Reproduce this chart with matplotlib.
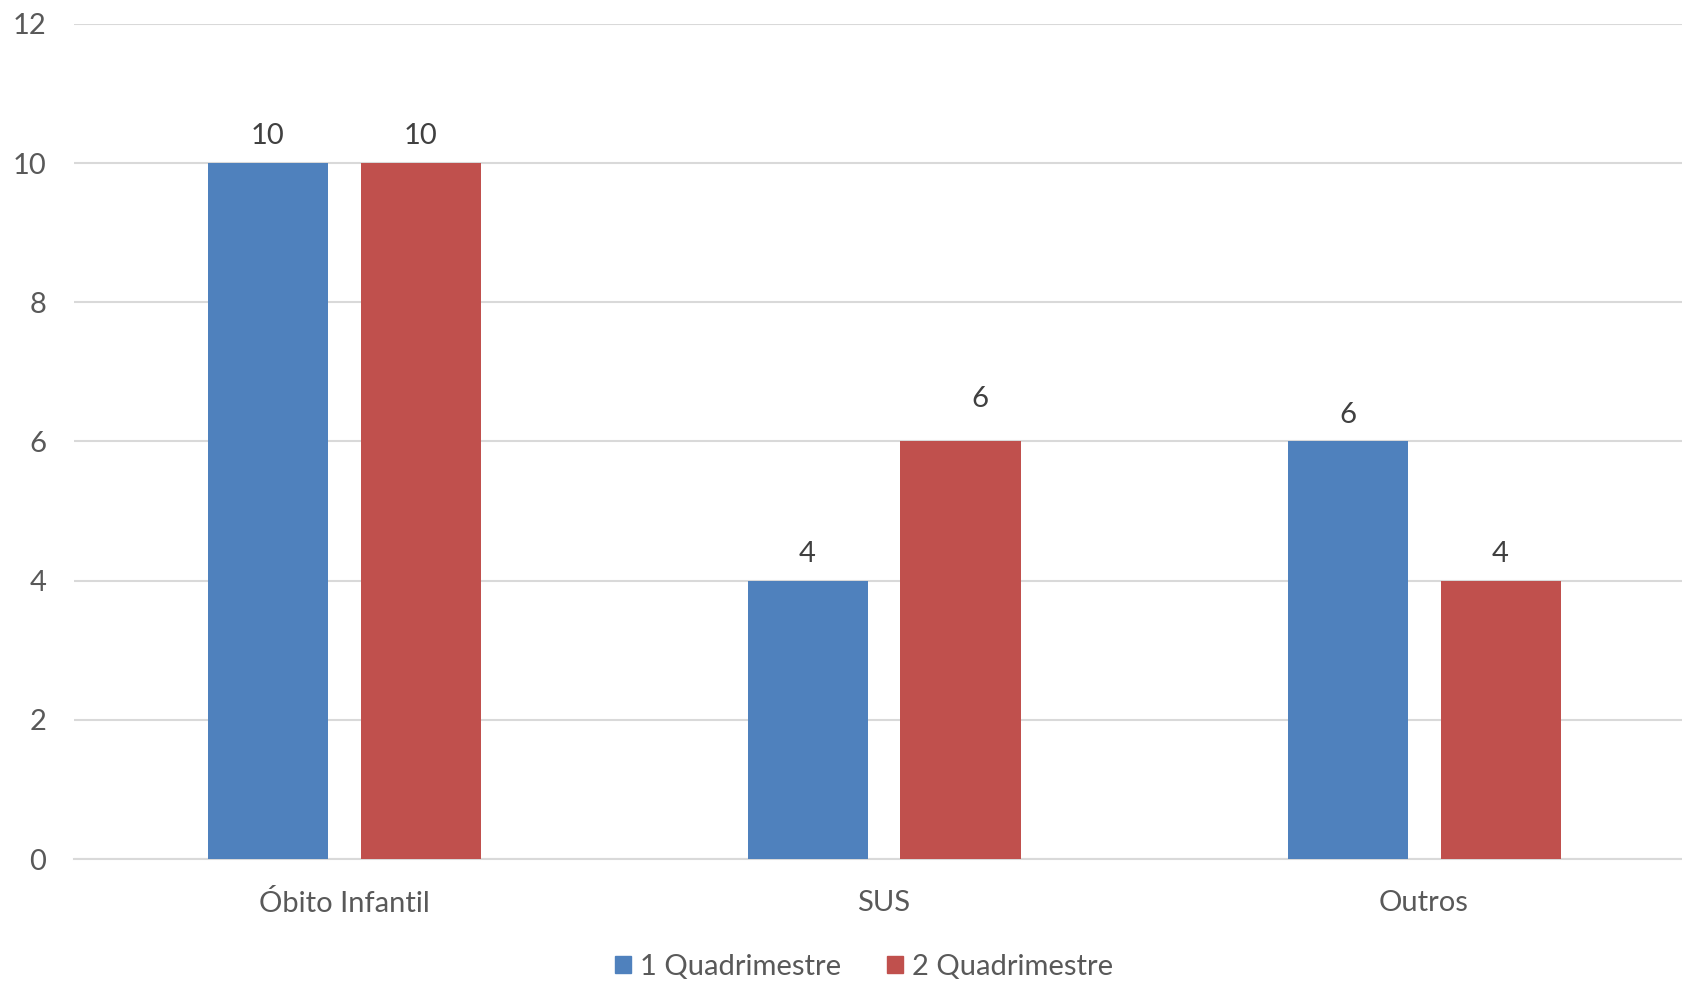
import matplotlib
matplotlib.use("Agg")
import matplotlib.pyplot as plt
import numpy as np
from matplotlib.patches import Patch

categories = ["Óbito Infantil", "SUS", "Outros"]
series_names = ["1 Quadrimestre", "2 Quadrimestre"]
q1 = [10, 4, 6]
q2 = [10, 6, 4]
yticks = [0, 2, 4, 6, 8, 10, 12]

plt.rcParams['font.family'] = ['Lato', 'DejaVu Sans']

W, H = 1682, 981
fig = plt.figure(figsize=(W / 100, H / 100), dpi=100)
left = 74 / W
bottom = (H - 859) / H
ax = fig.add_axes([left, bottom, 1620 / W, 835 / H])

blue = "#4F81BD"
red = "#C0504D"
x = np.arange(len(categories))
bw = 120 / 540
off = (120 + 33) / 540 / 2

b1 = ax.bar(x - off, q1, bw, color=blue, zorder=3)
b2 = ax.bar(x + off, q2, bw, color=red, zorder=3)

FS = 21
# label nudges (points) for manually moved labels in the original
nudge = {(1, 1): (14, 11)}
for si, bars in enumerate((b1, b2)):
    for ci, rect in enumerate(bars):
        h = rect.get_height()
        dx, dy = nudge.get((si, ci), (0, 0))
        ax.annotate(f"{h:g}", (rect.get_x() + rect.get_width() / 2, h),
                    xytext=(dx, 10 + dy), textcoords="offset points",
                    ha="center", va="bottom", fontsize=FS, color="#404040")

ax.set_xlim(-0.5, 2.5)
ax.set_ylim(0, 12)
ax.set_yticks(yticks)
ax.set_xticks(x)
ax.set_xticklabels(categories)
ax.yaxis.grid(True, color="#D9D9D9", linewidth=1.5, zorder=0)
ax.set_axisbelow(True)
for s in ["top", "right", "left"]:
    ax.spines[s].set_visible(False)
ax.spines["bottom"].set_color("#D9D9D9")
ax.spines["bottom"].set_linewidth(1.5)
ax.tick_params(axis="both", length=0, labelsize=FS, labelcolor="#595959")
ax.tick_params(axis="y", pad=20)
ax.tick_params(axis="x", pad=22)

handles = [Patch(color=blue, label=series_names[0]), Patch(color=red, label=series_names[1])]
fig.legend(handles=handles, loc="center", bbox_to_anchor=(864 / W, 1 - 967 / H),
           ncol=2, frameon=False, fontsize=FS, labelcolor="#595959",
           handlelength=0.55, handleheight=0.55, handletextpad=0.3, columnspacing=1.6)

fig.savefig("out.png", dpi=100)
